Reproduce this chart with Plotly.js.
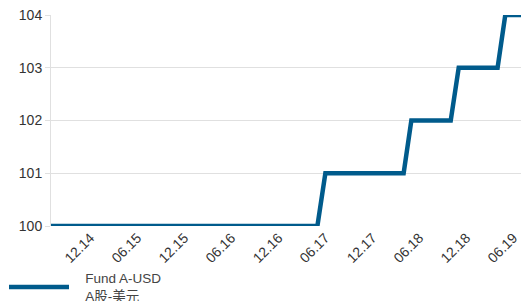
<!DOCTYPE html>
<html><head><meta charset="utf-8">
<script src="https://cdn.plot.ly/plotly-3.0.1.min.js"></script>
<style>html,body{margin:0;padding:0;background:#fff}#chart{width:521px;height:301px}</style>
</head><body><div id="chart"></div>
<script>
const seriesName = '\u00a0\u00a0\u00a0Fund A-USD<br>\u00a0\u00a0\u00a0A股-美元';
const dates = ['2014-07-01','2017-05-01','2017-06-01','2018-04-01','2018-05-01','2018-10-01','2018-11-01','2019-04-01','2019-05-01','2019-07-01'];
const values = [100,100,101,101,102,102,103,103,104,104];
const tickDates = ['2014-12-01','2015-06-01','2015-12-01','2016-06-01','2016-12-01','2017-06-01','2017-12-01','2018-06-01','2018-12-01','2019-06-01'];
const tickLabels = ['12.14','06.15','12.15','06.16','12.16','06.17','12.17','06.18','12.18','06.19'];
const yTicks = [100,101,102,103,104];

const fontFam = '"Liberation Sans", Arial, "Noto Sans CJK SC", sans-serif';
Plotly.newPlot('chart', [{
  x: dates, y: values, type: 'scatter', mode: 'lines', name: seriesName,
  line: {color: '#005b8c', width: 4.5}, showlegend: true, cliponaxis: true
}], {
  width: 521, height: 301,
  margin: {l: 51, r: 0, t: 15, b: 75, pad: 0, autoexpand: false},
  paper_bgcolor: '#fff', plot_bgcolor: '#fff',
  font: {family: fontFam, size: 13, color: '#333'},
  showlegend: true,
  legend: {orientation: 'h', x: -0.1, xanchor: 'left', y: -0.175, yanchor: 'top', itemwidth: 60,
           font: {family: fontFam, size: 13.5, color: '#444'}},
  xaxis: {type: 'date', range: ['2014-07-01', '2019-07-01'], tickmode: 'array', tickvals: tickDates, ticktext: tickLabels,
          tickangle: -45, showgrid: false, zeroline: false, showline: false, ticks: '', automargin: false,
          tickfont: {size: 14, color: '#333'}},
  yaxis: {range: [100, 104], tickmode: 'array', tickvals: yTicks, ticktext: yTicks.map(String), automargin: false,
          showgrid: true, gridcolor: '#e0e0e0', gridwidth: 1, zeroline: false,
          showline: true, linecolor: '#e0e0e0', ticks: 'outside', ticklen: 5, tickcolor: '#e0e0e0',
          tickfont: {size: 14, color: '#333'}}
}, {displayModeBar: false, staticPlot: true});
</script></body></html>
